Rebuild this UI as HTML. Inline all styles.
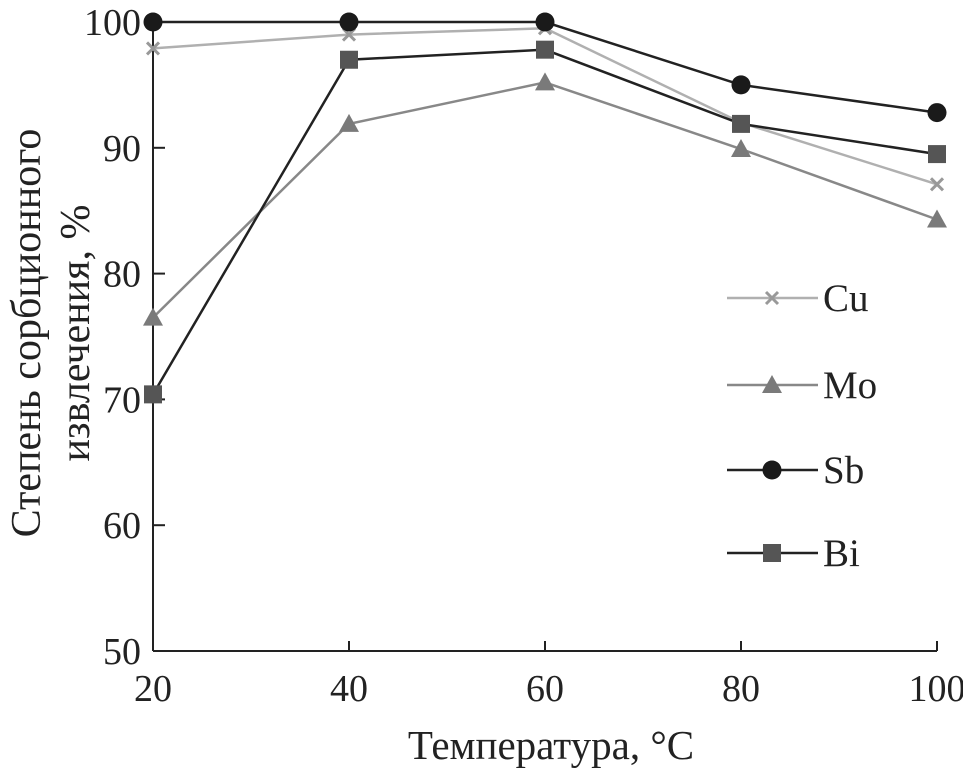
<!DOCTYPE html>
<html><head><meta charset="utf-8"><style>
html,body{margin:0;padding:0;background:#fff}
svg{display:block;font-family:"Liberation Serif",serif}
</style></head><body>
<svg id="chart" width="963" height="769"></svg>
<script>
const categories=[20,40,60,80,100];
const cuValues=[97.9,99.0,99.5,92.0,87.1];
const moValues=[76.5,91.9,95.2,89.9,84.3];
const sbValues=[100,100,100,95.0,92.8];
const biValues=[70.4,97.0,97.8,91.9,89.5];
const yTicks=[50,60,70,80,90,100];
const xTicks=[20,40,60,80,100];
const seriesNames=["Cu","Mo","Sb","Bi"];

const NS="http://www.w3.org/2000/svg";
const svg=document.getElementById('chart');
const X0=153,X1=937,Y0=651,Y1=22;
const xs=v=>X0+(v-20)/80*(X1-X0);
const ys=v=>Y0-(v-50)/50*(Y0-Y1);
function el(t,a,p){const e=document.createElementNS(NS,t);for(const k in a)e.setAttribute(k,a[k]);(p||svg).appendChild(e);return e;}

const axes=el('g',{});


el('line',{x1:X0,y1:Y0,x2:X1,y2:Y0,stroke:'#222','stroke-width':2},axes);
el('line',{x1:X0,y1:Y0,x2:X0,y2:Y1,stroke:'#222','stroke-width':2},axes);
yTicks.forEach(v=>{
  el('line',{x1:X0,y1:ys(v),x2:X0+12,y2:ys(v),stroke:'#222','stroke-width':2},axes);
  const t=el('text',{x:141,y:ys(v)+13,'text-anchor':'end','font-size':38,fill:'#222'},axes);
  
  
  t.textContent=v;
});
xTicks.forEach(v=>{
  el('line',{x1:xs(v),y1:Y0,x2:xs(v),y2:Y0-10,stroke:'#222','stroke-width':2},axes);
  const t=el('text',{x:xs(v),y:701,'text-anchor':'middle','font-size':38,fill:'#222'},axes);
  
  
  t.textContent=v;
});
const xt=el('text',{x:551,y:759,'text-anchor':'middle','font-size':41,fill:'#222'});


xt.textContent='Температура, °C';
const yt=el('text',{transform:'translate(40,333) rotate(-90)','text-anchor':'middle','font-size':42,fill:'#222'});


const ts1=el('tspan',{x:0,y:0},yt);ts1.textContent='Степень сорбционного';
const ts2=el('tspan',{x:0,y:49},yt);ts2.textContent='извлечения, %';

const styles=[
 {vals:cuValues,line:'#b0b0b0',mark:'#999',type:'x'},
 {vals:moValues,line:'#888',mark:'#7a7a7a',type:'tri'},
 {vals:sbValues,line:'#222',mark:'#1a1a1a',type:'circ'},
 {vals:biValues,line:'#222',mark:'#555',type:'sq'}];
function marker(g,type,cx,cy,c){
  if(type==='x'){el('path',{d:`M${cx-6} ${cy-6}L${cx+6} ${cy+6}M${cx-6} ${cy+6}L${cx+6} ${cy-6}`,stroke:c,'stroke-width':3},g);}
  else if(type==='tri'){el('polygon',{points:`${cx},${cy-10} ${cx+10},${cy+8} ${cx-10},${cy+8}`,fill:c},g);}
  else if(type==='circ'){el('circle',{cx,cy,r:9.5,fill:c},g);}
  else el('rect',{x:cx-9,y:cy-9,width:18,height:18,fill:c},g);
}
styles.forEach((s,i)=>{
  const g=el('g',{});
  
  
  el('polyline',{points:categories.map((c,j)=>xs(c)+','+ys(s.vals[j])).join(' '),fill:'none',stroke:s.line,'stroke-width':2.5},g);
  categories.forEach((c,j)=>marker(g,s.type,xs(c),ys(s.vals[j]),s.mark));
});
const legY=[298,385,470,553];
styles.forEach((s,i)=>{
  const g=el('g',{});
  
  
  el('line',{x1:727,y1:legY[i],x2:818,y2:legY[i],stroke:s.line,'stroke-width':2.5},g);
  marker(g,s.type,772,legY[i],s.mark);
  const t=el('text',{x:823,y:legY[i]+13,'font-size':39,fill:'#222'},g);
  t.textContent=seriesNames[i];
});
</script>
</body></html>
